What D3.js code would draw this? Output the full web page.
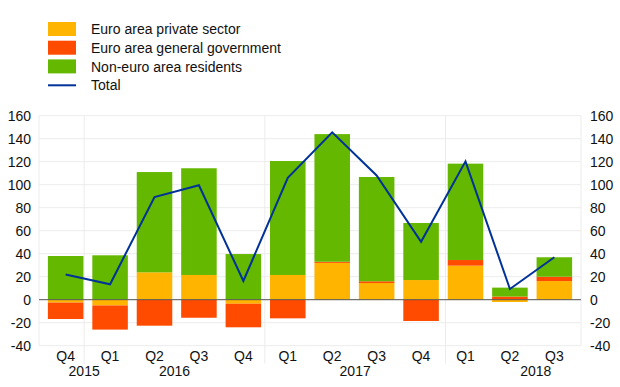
<!DOCTYPE html>
<html>
<head>
<meta charset="utf-8">
<script src="https://cdn.jsdelivr.net/npm/d3@7"></script>
<style>
  body { margin: 0; background: #fff; }
  text { font-family: "Liberation Sans", Arial, sans-serif; font-size: 14px; fill: #111; }
</style>
</head>
<body>
<div id="chart"></div>
<script>
let size = {width: 620, height: 387};
let margins = {top: 115.7, right: 39, bottom: 41.3, left: 39};

// quarters, with the year each belongs to
let quarters = ['Q4','Q1','Q2','Q3','Q4','Q1','Q2','Q3','Q4','Q1','Q2','Q3'];
let years = ['2015','2016','2017','2018'];
let yearAt = [1, 3, 7, 11];      // band index where year label sits
let yearBreaks = [1, 5, 9];      // separators between years

let privateSector = [-2.5, -5, 23.8, 21.5, -3.5, 21.5, 32, 14.5, 17.1, 29.6, -2, 16.2];
let generalGov    = [-14.3, -21, -22.6, -15.7, -20.5, -16.2, 1, 1.5, -18.5, 4.9, 2.7, 3.8];
let nonEuro       = [38, 38.6, 87.2, 92.8, 39.7, 99.1, 111, 90.7, 49.6, 83.8, 7.8, 16.9];
let total         = [22, 13.4, 89.3, 99.5, 16.3, 106, 145.5, 108, 50.4, 120.3, 9.3, 36.9];

let yTicks = [-40, -20, 0, 20, 40, 60, 80, 100, 120, 140, 160];

let series = [
  {key: 'priv', name: 'Euro area private sector', color: '#ffb400', values: privateSector},
  {key: 'gov', name: 'Euro area general government', color: '#ff4b00', values: generalGov},
  {key: 'non', name: 'Non-euro area residents', color: '#65b800', values: nonEuro}
];

function drawChart(el) {
  let svg = d3.select(el).append('svg')
    .attr('width', size.width)
    .attr('height', size.height);

  let idx = d3.range(quarters.length);
  let x = d3.scaleBand().domain(idx).range([margins.left, size.width - margins.right]).padding(0.2);
  let xi = d3.scaleLinear().domain([0, quarters.length]).range([margins.left, size.width - margins.right]);
  let y = d3.scaleLinear().domain([-40, 160]).range([size.height - margins.bottom, margins.top]);

  // grid
  svg.append('g').selectAll('line').data(yTicks).enter().append('line')
    .attr('x1', margins.left).attr('x2', size.width - margins.right)
    .attr('y1', d => y(d)).attr('y2', d => y(d))
    .attr('stroke', '#ececec').attr('stroke-width', 1);
  svg.append('g').selectAll('line').data([0, quarters.length]).enter().append('line')
    .attr('x1', d => xi(d)).attr('x2', d => xi(d))
    .attr('y1', y(160)).attr('y2', y(-40))
    .attr('stroke', '#ececec');
  svg.append('g').selectAll('line').data(yearBreaks).enter().append('line')
    .attr('x1', d => xi(d)).attr('x2', d => xi(d))
    .attr('y1', y(160)).attr('y2', y(-40) + 18)
    .attr('stroke', '#ececec');

  // stacked bars
  let rows = idx.map(i => ({priv: privateSector[i], gov: generalGov[i], non: nonEuro[i], i: i}));
  let stack = d3.stack().keys(series.map(s => s.key)).offset(d3.stackOffsetDiverging);
  let layers = stack(rows);
  layers.forEach(function(layer, k){
    svg.append('g').attr('fill', series[k].color)
      .selectAll('rect').data(layer).enter().append('rect')
      .attr('x', d => x(d.data.i))
      .attr('width', x.bandwidth())
      .attr('y', d => y(Math.max(d[0], d[1])))
      .attr('height', d => Math.abs(y(d[0]) - y(d[1])));
  });

  // zero line
  svg.append('line')
    .attr('x1', margins.left).attr('x2', size.width - margins.right)
    .attr('y1', y(0)).attr('y2', y(0))
    .attr('stroke', '#555').attr('stroke-width', 1);

  // total line
  let line = d3.line().x((d, i) => x(i) + x.bandwidth() / 2).y(d => y(d));
  svg.append('path').datum(total)
    .attr('d', line)
    .attr('fill', 'none')
    .attr('stroke', '#003299')
    .attr('stroke-width', 2);

  // y axes
  let fmt = d => String(d);
  let left = d3.axisLeft(y).tickValues(yTicks).tickFormat(fmt).tickSize(0).tickPadding(8);
  svg.append('g').attr('transform', 'translate(' + margins.left + ',0)').call(left)
    .call(g => g.select('.domain').remove());
  let right = d3.axisRight(y).tickValues(yTicks).tickFormat(fmt).tickSize(0).tickPadding(9);
  svg.append('g').attr('transform', 'translate(' + (size.width - margins.right) + ',0)').call(right)
    .call(g => g.select('.domain').remove());
  svg.selectAll('.tick text').attr('font-family', null).attr('font-size', null).attr('fill', null);

  // x labels
  svg.append('g').selectAll('text').data(quarters).enter().append('text')
    .attr('x', (d, i) => x(i) + x.bandwidth() / 2)
    .attr('y', 361)
    .attr('text-anchor', 'middle')
    .text(d => d);
  svg.append('g').selectAll('text').data(years).enter().append('text')
    .attr('x', (d, i) => xi(yearAt[i]))
    .attr('y', 375.5)
    .attr('text-anchor', 'middle')
    .text(d => d);

  // legend
  let leg = svg.append('g').attr('transform', 'translate(48,22)');
  series.forEach(function(s, k){
    leg.append('rect').attr('x', 0).attr('y', k * 18.7).attr('width', 28).attr('height', 14).attr('fill', s.color);
    leg.append('text').attr('x', 43).attr('y', k * 18.7 + 12.3).text(s.name);
  });
  leg.append('line').attr('x1', 0).attr('x2', 28).attr('y1', 3 * 18.7 + 7.2).attr('y2', 3 * 18.7 + 7.2)
    .attr('stroke', '#003299').attr('stroke-width', 2);
  leg.append('text').attr('x', 43).attr('y', 3 * 18.7 + 12.3).text('Total');
}

drawChart('#chart');
</script>
</body>
</html>
